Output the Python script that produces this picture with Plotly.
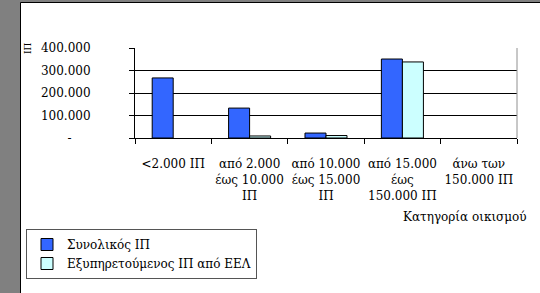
import plotly.graph_objects as go

categories = ["<2.000 ΙΠ", "από 2.000 έως 10.000 ΙΠ", "από 10.000 έως 15.000 ΙΠ",
              "από 15.000 έως 150.000 ΙΠ", "άνω των 150.000 ΙΠ"]
tick_labels = ["&lt;2.000 ΙΠ", "από 2.000<br>έως 10.000<br>ΙΠ", "από 10.000<br>έως 15.000<br>ΙΠ",
               "από 15.000<br>έως<br>150.000 ΙΠ", "άνω των<br>150.000 ΙΠ"]
total_pe = [267000, 133000, 22000, 351000, None]
served_pe = [None, 9000, 11000, 338000, None]
y_tickvals = [0, 100000, 200000, 300000, 400000]
y_ticktext = ["-\u00a0\u00a0\u00a0\u00a0\u00a0", "100.000", "200.000", "300.000", "400.000"]
series_names = ["Συνολικός ΙΠ", "Εξυπηρετούμενος ΙΠ από ΕΕΛ"]

W, H = 540, 293
L, R, T, B = 135, 517, 48, 138
def px(x): return (x - L) / (R - L)
def py(y): return (B - y) / (B - T)

font = "DejaVu Serif"

fig = go.Figure()
fig.add_trace(go.Bar(x=categories, y=total_pe, name=series_names[0],
                     marker=dict(color="#3366FF", line=dict(color="black", width=1))))
fig.add_trace(go.Bar(x=categories, y=served_pe, name=series_names[1],
                     marker=dict(color="#CCFFFF", line=dict(color="black", width=1))))

fig.update_layout(
    width=W, height=H,
    margin=dict(l=L, r=W - R, t=T, b=H - B, pad=0),
    paper_bgcolor="#808080", plot_bgcolor="white",
    font=dict(family=font, size=12, color="black"),
    barmode="group", bargap=0.45, bargroupgap=0,
    showlegend=True,
    legend=dict(x=px(26), y=py(229), xanchor="left", yanchor="top",
                bgcolor="white", bordercolor="#555555", borderwidth=1,
                font=dict(family=font, size=12), tracegroupgap=0, itemwidth=30,
                traceorder="normal"),
    xaxis=dict(type="category", tickvals=categories, ticktext=tick_labels,
               tickson="boundaries", ticks="outside", ticklen=5, tickcolor="black",
               showline=True, linecolor="black", linewidth=1,
               showgrid=False, tickangle=0, tickfont=dict(family=font, size=12),
               ticklabelstandoff=15),
    yaxis=dict(range=[0, 400000], tickvals=y_tickvals, ticktext=y_ticktext,
               ticks="outside", ticklen=5, tickcolor="black",
               showline=True, linecolor="black", linewidth=1,
               showgrid=True, gridcolor="black", gridwidth=1,
               zeroline=False, tickfont=dict(family=font, size=12),
               ticklabelstandoff=36),
    shapes=[
        dict(type="rect", xref="paper", yref="paper", layer="below",
             x0=px(20.5), x1=px(560), y0=py(310), y1=py(2.5),
             fillcolor="white", line=dict(color="black", width=1)),
        dict(type="line", xref="paper", yref="paper",
             x0=1, x1=1, y0=0, y1=1, line=dict(color="#909090", width=1)),
    ],
    annotations=[
        dict(text="ΙΠ", xref="paper", yref="paper", x=px(28), y=py(48),
             xanchor="center", yanchor="middle", textangle=-90, showarrow=False,
             font=dict(family=font, size=9)),
        dict(text="Κατηγορία οικισμού", xref="paper", yref="paper",
             x=px(529), y=py(217), xanchor="right", yanchor="middle",
             showarrow=False, font=dict(family=font, size=12)),
    ],
)

fig.write_html("out.html", config={"displayModeBar": False},
               post_script="document.body.style.margin='0';document.body.style.overflow='hidden';")
